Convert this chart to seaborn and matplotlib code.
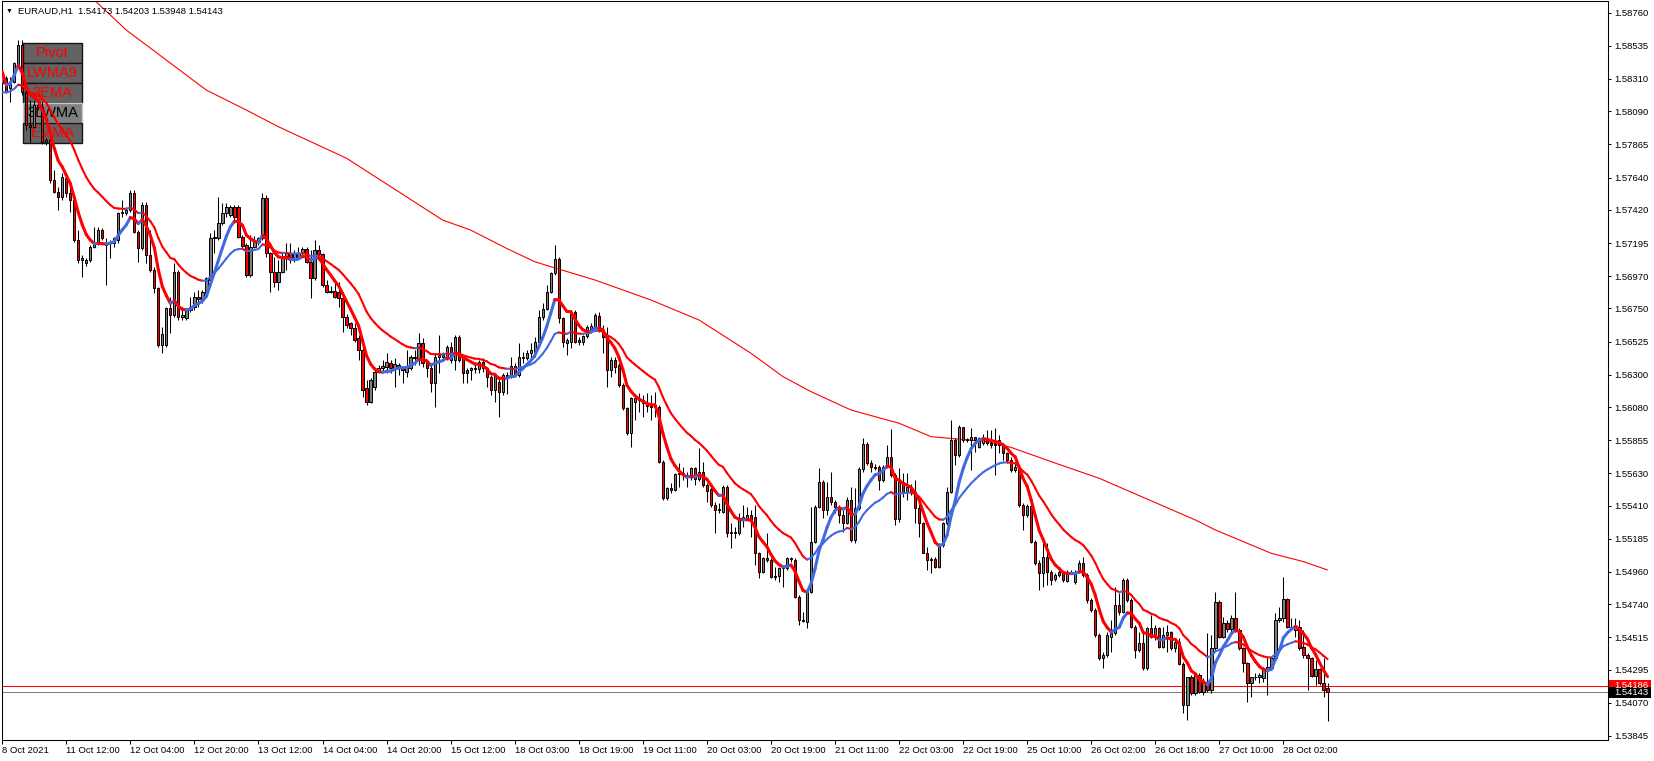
import numpy as np
import pandas as pd
import seaborn as sns
import matplotlib.pyplot as plt
from matplotlib.collections import LineCollection
from matplotlib.patches import Rectangle
from matplotlib.transforms import blended_transform_factory

# EURAUD H1 bars, 8 Oct 2021 20:00 .. 28 Oct 2021 13:00
opens = [
    1.58280, 1.58316, 1.58246, 1.58291, 1.58404, 1.58540, 1.58223, 1.57997, 1.57985, 1.58132,
    1.58121, 1.57883, 1.57895, 1.57623, 1.57543, 1.57510, 1.57634, 1.57532, 1.57487, 1.57215,
    1.57079, 1.57057, 1.57079, 1.57170, 1.57192, 1.57283, 1.57181, 1.57192, 1.57192, 1.57215,
    1.57396, 1.57396, 1.57419, 1.57532, 1.57272, 1.57158, 1.57453, 1.57113, 1.57011, 1.56887,
    1.56502, 1.56502, 1.56751, 1.56706, 1.57000, 1.56694, 1.56683, 1.56740, 1.56762, 1.56830,
    1.56817, 1.56853, 1.56943, 1.57226, 1.57226, 1.57328, 1.57396, 1.57385, 1.57442, 1.57442,
    1.57238, 1.57181, 1.56977, 1.57170, 1.57200, 1.57226, 1.57498, 1.57124, 1.57000, 1.56932,
    1.57000, 1.57107, 1.57130, 1.57079, 1.57102, 1.57124, 1.57151, 1.57068, 1.56955, 1.57147,
    1.57120, 1.56909, 1.56864, 1.56870, 1.56864, 1.56819, 1.56694, 1.56649, 1.56615, 1.56547,
    1.56468, 1.56207, 1.56117, 1.56219, 1.56320, 1.56343, 1.56354, 1.56377, 1.56343, 1.56366,
    1.56343, 1.56320, 1.56343, 1.56411, 1.56400, 1.56513, 1.56388, 1.56343, 1.56241, 1.56422,
    1.56422, 1.56422, 1.56490, 1.56400, 1.56558, 1.56411, 1.56309, 1.56332, 1.56343, 1.56337,
    1.56388, 1.56343, 1.56286, 1.56196, 1.56252, 1.56185, 1.56298, 1.56290, 1.56357, 1.56298,
    1.56422, 1.56416, 1.56445, 1.56456, 1.56524, 1.56694, 1.56745, 1.56864, 1.56989, 1.57085,
    1.56683, 1.56514, 1.56520, 1.56729, 1.56536, 1.56520, 1.56563, 1.56610, 1.56627, 1.56700,
    1.56604, 1.56570, 1.56332, 1.56400, 1.56366, 1.56231, 1.56072, 1.55902, 1.56117, 1.56140,
    1.56125, 1.56106, 1.56090, 1.56083, 1.56083, 1.55710, 1.55460, 1.55528, 1.55520, 1.55625,
    1.55630, 1.55619, 1.55605, 1.55664, 1.55590, 1.55642, 1.55551, 1.55525, 1.55415, 1.55381,
    1.55370, 1.55540, 1.55223, 1.55228, 1.55223, 1.55318, 1.55324, 1.55347, 1.55336, 1.55087,
    1.54962, 1.55053, 1.55042, 1.54928, 1.54935, 1.54985, 1.54985, 1.55053, 1.55042, 1.54792,
    1.54634, 1.54622, 1.54826, 1.55166, 1.55404, 1.55574, 1.55381, 1.55471, 1.55437, 1.55403,
    1.55347, 1.55290, 1.55449, 1.55177, 1.55392, 1.55657, 1.55829, 1.55698, 1.55664, 1.55675,
    1.55584, 1.55675, 1.55743, 1.55618, 1.55317, 1.55573, 1.55505, 1.55539, 1.55500, 1.55392,
    1.55290, 1.55091, 1.55041, 1.55046, 1.54996, 1.55143, 1.55290, 1.55505, 1.55856, 1.55754,
    1.55942, 1.55856, 1.55856, 1.55879, 1.55811, 1.55834, 1.55868, 1.55834, 1.55822, 1.55856,
    1.55822, 1.55766, 1.55720, 1.55652, 1.55675, 1.55415, 1.55347, 1.55409, 1.55165, 1.55023,
    1.54956, 1.55063, 1.54962, 1.54910, 1.54939, 1.54954, 1.54900, 1.54962, 1.54894, 1.54962,
    1.55018, 1.54939, 1.54769, 1.54701, 1.54531, 1.54373, 1.54396, 1.54520, 1.54543, 1.54735,
    1.54685, 1.54905, 1.54769, 1.54584, 1.54430, 1.54475, 1.54305, 1.54577, 1.54520, 1.54577,
    1.54452, 1.54532, 1.54554, 1.54441, 1.54486, 1.54335, 1.54056, 1.54243, 1.54135, 1.54260,
    1.54147, 1.54215, 1.54158, 1.54441, 1.54758, 1.54520, 1.54611, 1.54570, 1.54645, 1.54566,
    1.54441, 1.54339, 1.54203, 1.54243, 1.54249, 1.54237, 1.54294, 1.54305, 1.54373, 1.54634,
    1.54645, 1.54774, 1.54588, 1.54566, 1.54588, 1.54452, 1.54396, 1.54373, 1.54255, 1.54298,
    1.54203, 1.54173,
]
highs = [
    1.58382, 1.58330, 1.58325, 1.58427, 1.58575, 1.58575, 1.58240, 1.58166, 1.58166, 1.58166,
    1.58155, 1.57906, 1.57910, 1.57691, 1.57577, 1.57668, 1.57660, 1.57600, 1.57500, 1.57283,
    1.57113, 1.57090, 1.57181, 1.57306, 1.57306, 1.57300, 1.57226, 1.57215, 1.57238, 1.57408,
    1.57487, 1.57442, 1.57555, 1.57555, 1.57283, 1.57476, 1.57476, 1.57283, 1.57034, 1.56898,
    1.56626, 1.56762, 1.56830, 1.57057, 1.57011, 1.56762, 1.56751, 1.56830, 1.56864, 1.56875,
    1.56875, 1.56966, 1.57260, 1.57283, 1.57510, 1.57464, 1.57464, 1.57453, 1.57453, 1.57453,
    1.57250, 1.57192, 1.57249, 1.57240, 1.57238, 1.57532, 1.57520, 1.57135, 1.57102, 1.57079,
    1.57136, 1.57192, 1.57192, 1.57147, 1.57170, 1.57170, 1.57170, 1.57147, 1.57215, 1.57181,
    1.57130, 1.56943, 1.56900, 1.56932, 1.56932, 1.56830, 1.56710, 1.56660, 1.56649, 1.56570,
    1.56479, 1.56264, 1.56275, 1.56332, 1.56366, 1.56400, 1.56445, 1.56400, 1.56411, 1.56377,
    1.56354, 1.56468, 1.56434, 1.56468, 1.56581, 1.56547, 1.56400, 1.56377, 1.56445, 1.56570,
    1.56456, 1.56502, 1.56524, 1.56570, 1.56570, 1.56422, 1.56343, 1.56354, 1.56377, 1.56400,
    1.56411, 1.56354, 1.56298, 1.56309, 1.56286, 1.56309, 1.56320, 1.56422, 1.56377, 1.56513,
    1.56456, 1.56468, 1.56513, 1.56558, 1.56740, 1.56785, 1.56909, 1.57000, 1.57181, 1.57102,
    1.56690, 1.56550, 1.56740, 1.56740, 1.56559, 1.56570, 1.56638, 1.56650, 1.56717, 1.56729,
    1.56638, 1.56627, 1.56423, 1.56423, 1.56378, 1.56242, 1.56083, 1.56151, 1.56163, 1.56174,
    1.56163, 1.56174, 1.56163, 1.56185, 1.56095, 1.55720, 1.55540, 1.55562, 1.55630, 1.55698,
    1.55676, 1.55640, 1.55676, 1.55676, 1.55800, 1.55710, 1.55562, 1.55551, 1.55438, 1.55426,
    1.55551, 1.55551, 1.55291, 1.55268, 1.55358, 1.55415, 1.55404, 1.55381, 1.55415, 1.55098,
    1.55064, 1.55223, 1.55053, 1.54996, 1.54996, 1.55003, 1.55064, 1.55060, 1.55053, 1.54800,
    1.54690, 1.54837, 1.55404, 1.55415, 1.55664, 1.55585, 1.55573, 1.55641, 1.55449, 1.55415,
    1.55381, 1.55471, 1.55539, 1.55528, 1.55670, 1.55868, 1.55840, 1.55720, 1.55690, 1.55686,
    1.55686, 1.55822, 1.55929, 1.55630, 1.55664, 1.55630, 1.55630, 1.55560, 1.55584, 1.55449,
    1.55301, 1.55131, 1.55063, 1.55060, 1.55154, 1.55301, 1.55539, 1.55992, 1.55868, 1.55958,
    1.55947, 1.55870, 1.55936, 1.55879, 1.55879, 1.55900, 1.55924, 1.55924, 1.55936, 1.55890,
    1.55834, 1.55777, 1.55743, 1.55690, 1.55686, 1.55426, 1.55420, 1.55415, 1.55177, 1.55041,
    1.55188, 1.55154, 1.54973, 1.54950, 1.54973, 1.54966, 1.54973, 1.54970, 1.54973, 1.55041,
    1.55063, 1.54950, 1.54780, 1.54712, 1.54542, 1.54418, 1.54554, 1.54634, 1.54860, 1.54815,
    1.54917, 1.54917, 1.54781, 1.54600, 1.54554, 1.54554, 1.54588, 1.54668, 1.54600, 1.54588,
    1.54588, 1.54600, 1.54560, 1.54509, 1.54509, 1.54345, 1.54249, 1.54260, 1.54271, 1.54271,
    1.54237, 1.54543, 1.54532, 1.54826, 1.54769, 1.54656, 1.54634, 1.54668, 1.54826, 1.54577,
    1.54452, 1.54350, 1.54249, 1.54271, 1.54271, 1.54316, 1.54373, 1.54384, 1.54679, 1.54724,
    1.54928, 1.54781, 1.54645, 1.54645, 1.54634, 1.54566, 1.54407, 1.54384, 1.54362, 1.54305,
    1.54373, 1.54203,
]
lows = [
    1.58268, 1.58212, 1.58155, 1.58280, 1.58393, 1.58200, 1.57960, 1.57883, 1.57975, 1.58098,
    1.57870, 1.57860, 1.57600, 1.57532, 1.57419, 1.57487, 1.57510, 1.57408, 1.57200, 1.57057,
    1.56966, 1.57040, 1.57068, 1.57160, 1.57181, 1.57215, 1.56909, 1.57090, 1.57170, 1.57192,
    1.57374, 1.57385, 1.57408, 1.57260, 1.57068, 1.57147, 1.57057, 1.57000, 1.56853, 1.56490,
    1.56445, 1.56490, 1.56581, 1.56694, 1.56672, 1.56672, 1.56672, 1.56728, 1.56740, 1.56762,
    1.56785, 1.56830, 1.56909, 1.57124, 1.57215, 1.57317, 1.57374, 1.57374, 1.57328, 1.57226,
    1.57160, 1.56966, 1.56966, 1.57160, 1.57181, 1.57215, 1.57102, 1.56864, 1.56898, 1.56875,
    1.56989, 1.57011, 1.57057, 1.57068, 1.57091, 1.57102, 1.57057, 1.56819, 1.56943, 1.57102,
    1.56898, 1.56853, 1.56853, 1.56819, 1.56762, 1.56592, 1.56620, 1.56570, 1.56524, 1.56400,
    1.56151, 1.56094, 1.56105, 1.56196, 1.56309, 1.56320, 1.56309, 1.56309, 1.56219, 1.56298,
    1.56241, 1.56286, 1.56332, 1.56366, 1.56366, 1.56354, 1.56286, 1.56185, 1.56083, 1.56309,
    1.56400, 1.56400, 1.56377, 1.56332, 1.56388, 1.56241, 1.56241, 1.56264, 1.56309, 1.56309,
    1.56320, 1.56219, 1.56162, 1.56117, 1.56015, 1.56162, 1.56170, 1.56275, 1.56286, 1.56286,
    1.56377, 1.56400, 1.56411, 1.56422, 1.56513, 1.56672, 1.56740, 1.56853, 1.56977, 1.56649,
    1.56491, 1.56434, 1.56480, 1.56514, 1.56500, 1.56500, 1.56550, 1.56590, 1.56616, 1.56593,
    1.56446, 1.56219, 1.56287, 1.56310, 1.56219, 1.56061, 1.55890, 1.55811, 1.55993, 1.56050,
    1.56015, 1.56050, 1.55993, 1.56015, 1.55698, 1.55449, 1.55449, 1.55494, 1.55510, 1.55540,
    1.55585, 1.55540, 1.55585, 1.55551, 1.55580, 1.55540, 1.55438, 1.55404, 1.55223, 1.55358,
    1.55358, 1.55200, 1.55121, 1.55189, 1.55210, 1.55268, 1.55313, 1.55200, 1.55008, 1.54917,
    1.54951, 1.55030, 1.54917, 1.54906, 1.54894, 1.54860, 1.54974, 1.55030, 1.54781, 1.54600,
    1.54620, 1.54577, 1.54815, 1.55155, 1.55392, 1.55324, 1.55347, 1.55415, 1.55358, 1.55290,
    1.55230, 1.55285, 1.55165, 1.55154, 1.55381, 1.55641, 1.55686, 1.55641, 1.55650, 1.55516,
    1.55573, 1.55664, 1.55607, 1.55279, 1.55301, 1.55471, 1.55449, 1.55480, 1.55290, 1.55199,
    1.55086, 1.54973, 1.54950, 1.54985, 1.54985, 1.55131, 1.55279, 1.55494, 1.55686, 1.55743,
    1.55845, 1.55845, 1.55652, 1.55777, 1.55800, 1.55822, 1.55822, 1.55800, 1.55618, 1.55766,
    1.55720, 1.55700, 1.55641, 1.55640, 1.55403, 1.55245, 1.55335, 1.55154, 1.55007, 1.54837,
    1.54860, 1.54871, 1.54871, 1.54900, 1.54928, 1.54894, 1.54890, 1.54945, 1.54880, 1.54950,
    1.54928, 1.54746, 1.54690, 1.54520, 1.54361, 1.54305, 1.54384, 1.54418, 1.54532, 1.54668,
    1.54679, 1.54758, 1.54577, 1.54373, 1.54418, 1.54294, 1.54294, 1.54509, 1.54498, 1.54441,
    1.54441, 1.54418, 1.54430, 1.54418, 1.54328, 1.54000, 1.53954, 1.54124, 1.54124, 1.54135,
    1.54124, 1.54147, 1.54135, 1.54430, 1.54509, 1.54509, 1.54554, 1.54543, 1.54554, 1.54430,
    1.54283, 1.54079, 1.54113, 1.54226, 1.54203, 1.54215, 1.54124, 1.54294, 1.54362, 1.54622,
    1.54622, 1.54577, 1.54566, 1.54520, 1.54430, 1.54373, 1.54158, 1.54249, 1.54192, 1.54192,
    1.54113, 1.53948,
]
closes = [
    1.58359, 1.58223, 1.58291, 1.58416, 1.58540, 1.58223, 1.57997, 1.57985, 1.58132, 1.58121,
    1.57883, 1.57895, 1.57623, 1.57543, 1.57510, 1.57645, 1.57532, 1.57487, 1.57215, 1.57079,
    1.57090, 1.57079, 1.57170, 1.57192, 1.57283, 1.57226, 1.57192, 1.57192, 1.57226, 1.57396,
    1.57408, 1.57419, 1.57532, 1.57272, 1.57158, 1.57453, 1.57113, 1.57011, 1.56887, 1.56502,
    1.56580, 1.56751, 1.56706, 1.57000, 1.56694, 1.56706, 1.56740, 1.56762, 1.56830, 1.56817,
    1.56864, 1.56955, 1.57226, 1.57238, 1.57328, 1.57396, 1.57442, 1.57442, 1.57374, 1.57238,
    1.57175, 1.56977, 1.57170, 1.57200, 1.57226, 1.57498, 1.57124, 1.57000, 1.56932, 1.57000,
    1.57107, 1.57130, 1.57079, 1.57124, 1.57124, 1.57151, 1.57068, 1.56955, 1.57147, 1.57120,
    1.56909, 1.56864, 1.56870, 1.56830, 1.56819, 1.56694, 1.56638, 1.56615, 1.56536, 1.56468,
    1.56196, 1.56117, 1.56264, 1.56320, 1.56343, 1.56357, 1.56388, 1.56343, 1.56372, 1.56343,
    1.56330, 1.56343, 1.56422, 1.56422, 1.56513, 1.56377, 1.56343, 1.56241, 1.56422, 1.56434,
    1.56434, 1.56490, 1.56400, 1.56558, 1.56400, 1.56309, 1.56332, 1.56343, 1.56337, 1.56388,
    1.56343, 1.56286, 1.56196, 1.56298, 1.56185, 1.56298, 1.56290, 1.56357, 1.56298, 1.56422,
    1.56416, 1.56445, 1.56468, 1.56524, 1.56694, 1.56745, 1.56864, 1.56989, 1.57085, 1.56683,
    1.56525, 1.56536, 1.56729, 1.56525, 1.56520, 1.56563, 1.56627, 1.56630, 1.56706, 1.56604,
    1.56559, 1.56332, 1.56400, 1.56355, 1.56231, 1.56072, 1.55902, 1.56140, 1.56140, 1.56125,
    1.56106, 1.56090, 1.56083, 1.56095, 1.55710, 1.55460, 1.55528, 1.55520, 1.55625, 1.55630,
    1.55619, 1.55605, 1.55664, 1.55590, 1.55642, 1.55551, 1.55510, 1.55415, 1.55381, 1.55390,
    1.55540, 1.55223, 1.55228, 1.55223, 1.55318, 1.55336, 1.55347, 1.55313, 1.55087, 1.54962,
    1.55053, 1.55042, 1.54928, 1.54935, 1.54985, 1.54996, 1.55053, 1.55045, 1.54792, 1.54634,
    1.54628, 1.54826, 1.55166, 1.55404, 1.55574, 1.55381, 1.55471, 1.55437, 1.55403, 1.55347,
    1.55290, 1.55449, 1.55177, 1.55392, 1.55657, 1.55829, 1.55698, 1.55671, 1.55675, 1.55584,
    1.55675, 1.55743, 1.55618, 1.55317, 1.55573, 1.55505, 1.55539, 1.55500, 1.55392, 1.55290,
    1.55091, 1.55041, 1.55046, 1.54996, 1.55143, 1.55290, 1.55505, 1.55856, 1.55754, 1.55942,
    1.55856, 1.55862, 1.55879, 1.55856, 1.55868, 1.55868, 1.55834, 1.55822, 1.55829, 1.55822,
    1.55766, 1.55720, 1.55652, 1.55675, 1.55415, 1.55347, 1.55409, 1.55165, 1.55023, 1.54956,
    1.55063, 1.54962, 1.54905, 1.54939, 1.54962, 1.54905, 1.54962, 1.54955, 1.54962, 1.55018,
    1.54939, 1.54769, 1.54701, 1.54531, 1.54373, 1.54396, 1.54532, 1.54543, 1.54735, 1.54685,
    1.54905, 1.54769, 1.54584, 1.54430, 1.54475, 1.54305, 1.54577, 1.54520, 1.54577, 1.54452,
    1.54532, 1.54554, 1.54441, 1.54486, 1.54335, 1.54056, 1.54243, 1.54135, 1.54260, 1.54147,
    1.54215, 1.54158, 1.54441, 1.54758, 1.54520, 1.54611, 1.54570, 1.54645, 1.54566, 1.54441,
    1.54339, 1.54203, 1.54243, 1.54249, 1.54260, 1.54294, 1.54316, 1.54373, 1.54634, 1.54645,
    1.54774, 1.54588, 1.54585, 1.54588, 1.54441, 1.54396, 1.54373, 1.54255, 1.54298, 1.54203,
    1.54158, 1.54143,
]

# long moving average (thin red), read at a few bars
long_ma_bar = [16, 23, 31, 41, 51, 61, 69, 86, 110, 117, 126, 133, 137, 148, 162, 174,
               187, 195, 202, 212, 224, 232, 246, 252, 262, 274, 298, 303, 311, 317, 325, 331]
long_ma_val = [1.59025, 1.58846, 1.58642, 1.58438, 1.58234, 1.58098, 1.57985, 1.57771,
               1.57351, 1.57283, 1.57158, 1.57068, 1.57034, 1.56944, 1.56808, 1.56672,
               1.56446, 1.56287, 1.56185, 1.56060, 1.55970, 1.55879, 1.55845, 1.55806,
               1.55709, 1.55596, 1.55313, 1.55245, 1.55154, 1.55086, 1.55030, 1.54973]
slow_seed = 1.58205  # slow EMA value at the first bar

time_labels = ['8 Oct 2021', '11 Oct 12:00', '12 Oct 04:00', '12 Oct 20:00', '13 Oct 12:00',
               '14 Oct 04:00', '14 Oct 20:00', '15 Oct 12:00', '18 Oct 03:00', '18 Oct 19:00',
               '19 Oct 11:00', '20 Oct 03:00', '20 Oct 19:00', '21 Oct 11:00', '22 Oct 03:00',
               '22 Oct 19:00', '25 Oct 10:00', '26 Oct 02:00', '26 Oct 18:00', '27 Oct 10:00',
               '28 Oct 02:00']
price_ticks = [1.58760, 1.58535, 1.58310, 1.58090, 1.57865, 1.57640, 1.57420, 1.57195,
               1.56970, 1.56750, 1.56525, 1.56300, 1.56080, 1.55855, 1.55630, 1.55410,
               1.55185, 1.54960, 1.54740, 1.54515, 1.54295, 1.54070, 1.53845]
pivot_level = 1.54186
bid_price = 1.54143
buttons = ['Pivot', 'LWMA9', '3EMA', '3LWMA', 'EMMA']

RED = '#FF0000'
BLUE = '#4169E1'

df = pd.DataFrame({'open': opens, 'high': highs, 'low': lows, 'close': closes})
df['bar'] = np.arange(len(df))
df['high'] = df[['open', 'high', 'close']].max(axis=1)
df['low'] = df[['open', 'low', 'close']].min(axis=1)

# LWMA 9 (fast) and EMA 21 (slow)
def lwma(s):
    w = np.arange(1, len(s) + 1)
    return np.dot(s, w) / w.sum()

df['fast'] = df['close'].rolling(9, min_periods=1).apply(lwma, raw=True)
alpha = 2 / 22
slow = []
prev = slow_seed
for c in df['close']:
    prev = prev + alpha * (c - prev)
    slow.append(prev)
df['slow'] = slow

sns.set_theme(style="white")
plt.rcParams['font.family'] = ['Liberation Sans', 'DejaVu Sans']

W, H = 1654, 761
fig = plt.figure(figsize=(W / 100, H / 100), dpi=100)
fig.patch.set_facecolor('white')
ax = fig.add_axes([2 / W, 21 / H, 1606 / W, 739 / H])
ax.set_facecolor('white')

# buttons (behind the chart)
for k, name in enumerate(buttons):
    top = 43 + 20 * k
    x0, y0 = (23 - 2) / 1606, (740 - (top + 19.5)) / 739
    light = name == '3LWMA'
    ax.add_patch(Rectangle((x0, y0), 59 / 1606, 19.5 / 739, transform=ax.transAxes,
                           facecolor='#808080' if light else '#636363',
                           edgecolor='#c8c8c8' if light else '#151515',
                           linewidth=1.0, zorder=1))
    ax.text(x0 + 29.5 / 1606, y0 + 9.5 / 739, name, transform=ax.transAxes,
            ha='center', va='center', fontsize=10.5,
            color='black' if light else RED, zorder=1.1)

# pivot and bid lines
ax.axhline(pivot_level, color=RED, lw=0.75, zorder=1.5)
ax.axhline(bid_price, color='#808080', lw=0.75, zorder=1.5)

# long MA
sns.lineplot(x=long_ma_bar, y=long_ma_val, ax=ax, color=RED, linewidth=0.8,
             estimator=None, sort=False, zorder=2)

# candles
up = df['close'] >= df['open']
ax.vlines(df['bar'], df['low'], df['high'], color='black', linewidth=0.75, zorder=3)
body_low = np.minimum(df['open'], df['close'])
body_h = np.maximum(np.abs(df['close'] - df['open']), 0.00001)
ax.bar(df['bar'], body_h, bottom=body_low, width=0.56,
       color=np.where(up, '#808080', RED), edgecolor='black', linewidth=0.7, zorder=4)

# slope-coloured moving averages
def slope_line(x, y, lw, z):
    pts = np.column_stack([x, y])
    segs = np.stack([pts[:-1], pts[1:]], axis=1)
    cols = np.where(np.diff(y) > 0, BLUE, RED)
    ax.add_collection(LineCollection(segs, colors=cols, linewidths=lw,
                                     capstyle='round', zorder=z))

slope_line(df['bar'].values, df['slow'].values, 1.5, 5)
slope_line(df['bar'].values, df['fast'].values, 2.2, 6)

ax.set_xlim(-0.05, 401.05)
ax.set_ylim(1.538178, 1.588395)

ax.yaxis.tick_right()
ax.set_yticks(price_ticks, labels=[f'{p:.5f}' for p in price_ticks])
ax.set_xticks(np.arange(0, 16 * len(time_labels), 16), labels=time_labels, ha='left')
ax.tick_params(axis='y', direction='out', length=2.5, width=0.75, pad=2.2,
               labelsize=6.8, colors='black', right=True, left=False)
ax.tick_params(axis='x', direction='out', length=3, width=0.75, pad=1.2,
               labelsize=6.8, colors='black', bottom=True)
for s in ax.spines.values():
    s.set_color('black')
    s.set_linewidth(0.75)
ax.grid(False)

# price labels on the right axis
blend = blended_transform_factory(ax.transAxes, ax.transData)
box_h = 11 / 14716
for price, face in [(pivot_level, RED), (bid_price, 'black')]:
    ax.add_patch(Rectangle((1.0006, price - box_h / 2), 42 / 1606, box_h, transform=blend,
                           facecolor=face, edgecolor='none', clip_on=False, zorder=10))
    ax.text(1.0037, price, f'{price:.5f}', transform=blend, color='white', fontsize=6.8,
            ha='left', va='center', clip_on=False, zorder=10.5)

# header
fig.text(6 / W, 1 - 11 / H, '\u25BC', fontsize=5, ha='left', va='center', color='black')
last = df.iloc[-1]
fig.text(18 / W, 1 - 11 / H,
         f"EURAUD,H1  {last['open']:.5f} {last['high']:.5f} {last['low']:.5f} {last['close']:.5f}",
         fontsize=6.8, ha='left', va='center', color='black')

fig.savefig('out.png', dpi=100, facecolor='white')
